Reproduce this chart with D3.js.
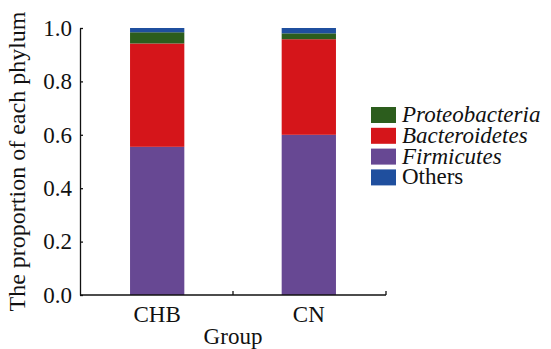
<!DOCTYPE html>
<html><head><meta charset="utf-8">
<script src="https://cdn.jsdelivr.net/npm/d3@7"></script>
<style>body{margin:0;background:#fff}svg{display:block}</style>
</head><body><svg id="c" width="551" height="349"></svg>
<script>
const groups = ["CHB", "CN"];
const phyla = ["Firmicutes", "Bacteroidetes", "Proteobacteria", "Others"];
const firmicutes = [0.555, 0.600];
const bacteroidetes = [0.387, 0.358];
const proteobacteria = [0.042, 0.022];
const others = [0.016, 0.020];
const yTicks = [0, 0.2, 0.4, 0.6, 0.8, 1.0];
const legendOrder = ["Proteobacteria", "Bacteroidetes", "Firmicutes", "Others"];
const colors = {Firmicutes:"#674893", Bacteroidetes:"#d5151a", Proteobacteria:"#2c5d1d", Others:"#1f4f9e"};
const FONT = "'Liberation Serif', 'DejaVu Serif', 'Times New Roman', Times, serif";

const seriesVals = {Firmicutes:firmicutes, Bacteroidetes:bacteroidetes, Proteobacteria:proteobacteria, Others:others};
const table = groups.map((g,i)=>{const o={group:g}; phyla.forEach(p=>o[p]=seriesVals[p][i]); return o;});
const stacked = d3.stack().keys(phyla)(table);

const svg = d3.select("#c");
const x = d3.scaleBand().domain(groups).range([80,386]).paddingInner(0.642).paddingOuter(0.33);
const y = d3.scaleLinear().domain([0,1]).range([295,28]);

svg.append("g").selectAll("g").data(stacked).join("g")
  .attr("fill", d=>colors[d.key])
  .selectAll("rect").data(d=>d).join("rect")
  .attr("x", d=>x(d.data.group)).attr("width", x.bandwidth())
  .attr("y", d=>y(d[1])).attr("height", d=>y(d[0])-y(d[1]));

// y axis
const ya = svg.append("g").attr("transform","translate(80,0)")
  .call(d3.axisLeft(y).tickValues(yTicks).tickFormat(d3.format(".1f")).tickSizeInner(-3).tickSizeOuter(0).tickPadding(8));
ya.attr("font-family", null).attr("font-size", null);
ya.select(".domain").attr("stroke","#111").attr("stroke-width",1.3);
ya.selectAll(".tick line").attr("stroke","#111").attr("stroke-width",1.3);
ya.selectAll(".tick text").style("font-family",FONT).style("font-size","23px").attr("fill","#111");

// x axis
const xr = x.range();
const bounds = [(x(groups[0])+x.bandwidth()+x(groups[1]))/2, xr[1]];
const xa = svg.append("g").attr("transform","translate(0,295)");
xa.append("line").attr("x1",xr[0]).attr("x2",xr[1]).attr("stroke","#111").attr("stroke-width",1.3);
xa.selectAll(".tk").data(bounds).join("line").attr("class","tk")
  .attr("x1",d=>d).attr("x2",d=>d).attr("y1",0).attr("y2",-4).attr("stroke","#111").attr("stroke-width",1.3);
xa.selectAll(".lab").data(groups).join("text").attr("class","lab")
  .attr("x",d=>x(d)+x.bandwidth()/2).attr("y",27).attr("text-anchor","middle").attr("fill","#111")
  .style("font-family",FONT).style("font-size","23px").text(d=>d);

svg.append("text").attr("x",233).attr("y",344).attr("text-anchor","middle").attr("fill","#111")
  .style("font-family",FONT).style("font-size","23px").text("Group");
svg.append("text").attr("transform",`translate(25,${(y(0)+y(1))/2}) rotate(-90)`).attr("text-anchor","middle").attr("fill","#111")
  .style("font-family",FONT).style("font-size","24px").text("The proportion of each phylum");

// legend
const lg = svg.append("g").attr("transform","translate(371,107)");
const items = lg.selectAll("g").data(legendOrder).join("g").attr("transform",(d,i)=>`translate(0,${i*20.8})`);
items.append("rect").attr("width",25).attr("height",16).attr("fill",d=>colors[d]);
items.append("text").attr("x",31).attr("y",15).attr("fill","#111").style("font-family",FONT).style("font-size","23px")
  .style("font-style",d=>d==="Others"?"normal":"italic").text(d=>d);
</script></body></html>
